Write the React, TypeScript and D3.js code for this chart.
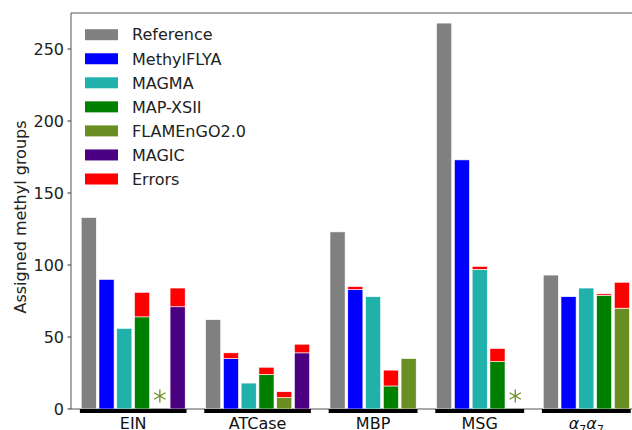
import React from 'react';
import * as d3 from 'd3';

const groups = ['EIN', 'ATCase', 'MBP', 'MSG', 'α7α7'];
const methods = ['Reference', 'MethylFLYA', 'MAGMA', 'MAP-XSII', 'FLAMEnGO2.0', 'MAGIC'];
const colors = ['#808080', '#0000ff', '#20b2aa', '#008000', '#6b8e23', '#4b0082'];
const errorColor = '#ff0000';

// assigned methyl groups per method (null = no bar; 'star' = not run)
const reference = [133, 62, 123, 268, 93];
const methylflya = [90, 35, 83, 173, 78];
const magma = [56, 18, 78, 97, 84];
const mapxsii = [64, 24, 16, 33, 79];
const flamengo: (number | string)[] = ['star', 8, 35, 'star', 70];
const magic: (number | null)[] = [71, 39, null, null, null];

// errors stacked on top
const refErr = [0, 0, 0, 0, 0];
const methylErr = [0, 4, 2, 0, 0];
const magmaErr = [0, 0, 0, 2, 0];
const mapErr = [17, 5, 11, 9, 1];
const flamErr = [0, 4, 0, 0, 18];
const magicErr = [13, 6, 0, 0, 0];

const yTicks = [0, 50, 100, 150, 200, 250];

const App = () => {
    const svgRef = React.useRef(null);

    const W = 632, H = 430;
    const left = 71, top = 13, base = 409;

    React.useEffect(() => {
        const svg = d3.select(svgRef.current);
        svg.selectAll('*').remove();

        const font = 'DejaVu Sans';

        const series = [reference, methylflya, magma, mapxsii, flamengo, magic];
        const errs = [refErr, methylErr, magmaErr, mapErr, flamErr, magicErr];

        // lay bars out slot by slot, one empty slot between groups
        const bars: any[] = [];
        const groupSpans: any[] = [];
        let slot = 0;
        groups.forEach((g, gi) => {
            const first = slot;
            series.forEach((s, mi) => {
                const v = s[gi];
                if (v === null || v === undefined) return;
                bars.push({ slot, mi, v, err: errs[mi][gi] });
                slot++;
            });
            groupSpans.push({ name: g, first, last: slot - 1 });
            slot++;
        });

        const x = d3.scaleLinear().domain([-1, 31]).range([left, left + 32 * 17.77]);
        const y = d3.scaleLinear().domain([0, 275]).range([base, top]);
        const bw = (x(1) - x(0)) * 0.85;

        // spines
        svg.append('line')
            .attr('x1', left).attr('x2', W).attr('y1', top).attr('y2', top)
            .attr('stroke', '#555').attr('stroke-width', 1);
        svg.append('line')
            .attr('x1', left).attr('x2', left).attr('y1', top).attr('y2', base)
            .attr('stroke', '#555').attr('stroke-width', 1);
        svg.append('line')
            .attr('x1', left).attr('x2', W).attr('y1', base).attr('y2', base)
            .attr('stroke', '#555').attr('stroke-width', 1);

        // y ticks
        const yt = svg.append('g');
        yt.selectAll('line').data(yTicks).enter().append('line')
            .attr('x1', left - 3.5).attr('x2', left)
            .attr('y1', (d) => y(d)).attr('y2', (d) => y(d))
            .attr('stroke', '#333');
        yt.selectAll('text').data(yTicks).enter().append('text')
            .attr('x', left - 7).attr('y', (d) => y(d))
            .attr('dy', '0.36em')
            .attr('text-anchor', 'end')
            .style('font-family', font).style('font-size', '16px')
            .attr('fill', '#222')
            .text((d) => d);

        svg.append('text')
            .attr('transform', `translate(26,${(top + base) / 2 + 6}) rotate(-90)`)
            .attr('text-anchor', 'middle')
            .style('font-family', font).style('font-size', '16px')
            .attr('fill', '#222')
            .text('Assigned methyl groups');

        // bars
        const bg = svg.append('g');
        bars.forEach((b) => {
            const cx = x(b.slot);
            if (b.v === 'star') {
                const star = d3.symbol().type(d3.symbolAsterisk).size(120);
                bg.append('path')
                    .attr('d', star())
                    .attr('transform', `translate(${cx},${base - 13})`)
                    .attr('fill', 'none')
                    .attr('stroke', colors[b.mi])
                    .attr('stroke-width', 1.3);
                return;
            }
            bg.append('rect')
                .attr('x', cx - bw / 2).attr('width', bw)
                .attr('y', y(b.v)).attr('height', base - y(b.v))
                .attr('fill', colors[b.mi])
                .attr('stroke', 'white').attr('stroke-width', 0.6);
            if (b.err > 0) {
                bg.append('rect')
                    .attr('x', cx - bw / 2).attr('width', bw)
                    .attr('y', y(b.v + b.err)).attr('height', y(b.v) - y(b.v + b.err))
                    .attr('fill', errorColor)
                    .attr('stroke', 'white').attr('stroke-width', 0.6);
            }
        });

        // black group underlines + labels
        groupSpans.forEach((g) => {
            const x0 = x(g.first - 0.5), x1 = x(g.last + 0.5);
            svg.append('rect')
                .attr('x', x0).attr('width', x1 - x0)
                .attr('y', base).attr('height', 4)
                .attr('fill', 'black');
            const t = svg.append('text')
                .attr('x', (x0 + x1) / 2).attr('y', 428.5)
                .attr('text-anchor', 'middle')
                .style('font-family', font).style('font-size', '16px')
                .attr('fill', '#111');
            if (g.name === 'α7α7') {
                t.append('tspan').style('font-style', 'italic').text('α');
                t.append('tspan').attr('dy', 4).style('font-size', '11px').text('7');
                t.append('tspan').attr('dy', -4).style('font-style', 'italic').text('α');
                t.append('tspan').attr('dy', 4).style('font-size', '11px').text('7');
            } else {
                t.text(g.name);
            }
        });

        // legend
        const labels = [...methods, 'Errors'];
        const lcol = [...colors, errorColor];
        const lg = svg.append('g');
        labels.forEach((l, i) => {
            const cy = 34.7 + i * 24.05;
            lg.append('rect')
                .attr('x', 85).attr('y', cy - 5.5).attr('width', 33).attr('height', 11)
                .attr('fill', lcol[i]);
            lg.append('text')
                .attr('x', 132).attr('y', cy).attr('dy', '0.36em')
                .style('font-family', font).style('font-size', '16px')
                .attr('fill', '#222')
                .text(l);
        });
    }, []);

    return (
        <svg ref={svgRef} width={W} height={H}
            style={{ position: 'fixed', left: 0, top: 0, background: 'white' }} />
    );
};

export default App;
